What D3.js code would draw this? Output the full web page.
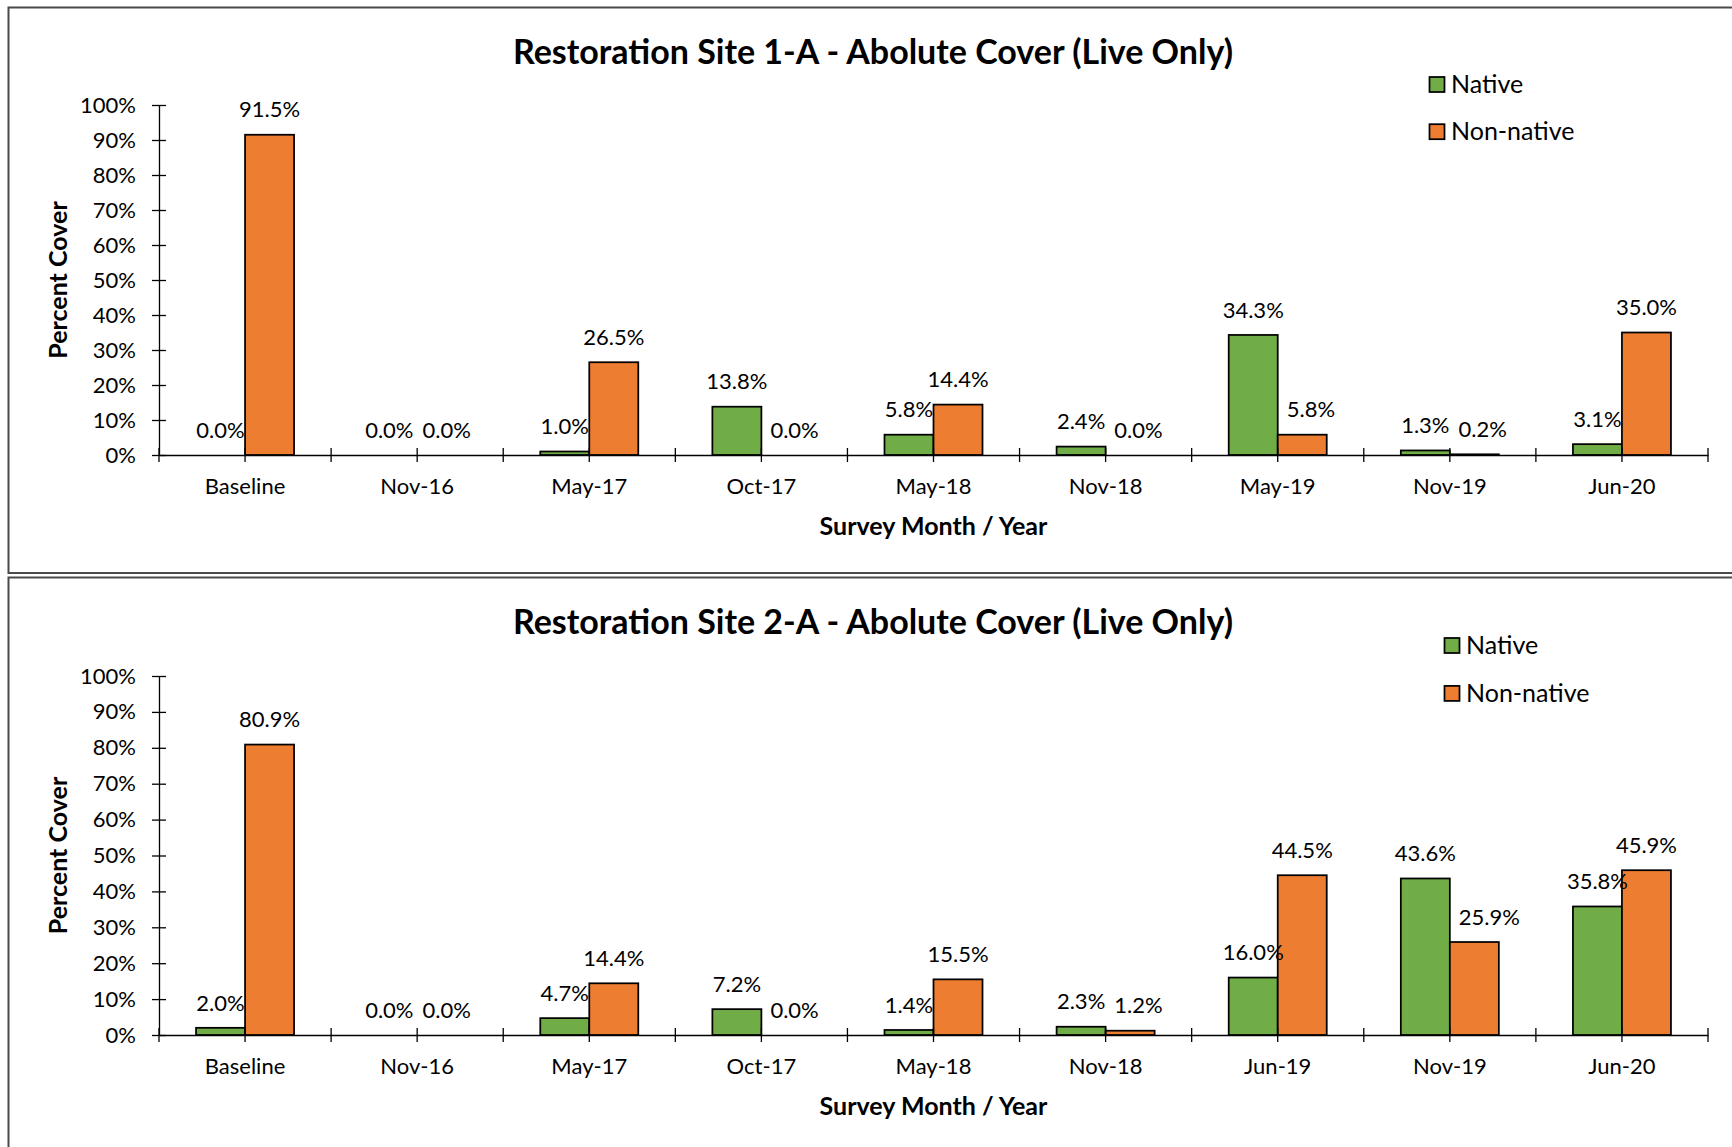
<!DOCTYPE html>
<html>
<head>
<meta charset="utf-8">
<script src="https://cdn.jsdelivr.net/npm/d3@7"></script>
<style>
  html, body { margin: 0; padding: 0; background: #fff; }
  svg { display: block; }
  text { font-family: Lato, "Noto Sans", "Liberation Sans", sans-serif; fill: #000; }
</style>
</head>
<body>
<svg id="chart" width="1732" height="1147"></svg>
<script>
// Survey categories and percent cover per site
const site1Categories = ["Baseline", "Nov-16", "May-17", "Oct-17", "May-18", "Nov-18", "May-19", "Nov-19", "Jun-20"];
const site1Native     = [0.0, 0.0, 1.0, 13.8, 5.8, 2.4, 34.3, 1.3, 3.1];
const site1NonNative  = [91.5, 0.0, 26.5, 0.0, 14.4, 0.0, 5.8, 0.2, 35.0];

const site2Categories = ["Baseline", "Nov-16", "May-17", "Oct-17", "May-18", "Nov-18", "Jun-19", "Nov-19", "Jun-20"];
const site2Native     = [2.0, 0.0, 4.7, 7.2, 1.4, 2.3, 16.0, 43.6, 35.8];
const site2NonNative  = [80.9, 0.0, 14.4, 0.0, 15.5, 1.2, 44.5, 25.9, 45.9];

const seriesNames  = ["Native", "Non-native"];
const seriesColors = ["#70AD47", "#ED7D31"];
const yTickValues  = [0, 10, 20, 30, 40, 50, 60, 70, 80, 90, 100];

const chartTitles = [
  "Restoration Site 1-A - Abolute Cover (Live Only)",
  "Restoration Site 2-A - Abolute Cover (Live Only)"
];
const xAxisTitle = "Survey Month / Year";
const yAxisTitle = "Percent Cover";

const svg = d3.select("#chart");

// Panel geometry for the two stacked charts
const panels = [
  {
    frame: { x: 8.5, y: 7.5, w: 1740, h: 565.5 },
    title: chartTitles[0], titleY: 52,
    plotTop: 105, plotBottom: 455,
    catLabelY: 486, xTitleY: 526,
    legend: { x: 1429.5, y1: 84.5, y2: 131.7, textX: 1451 },
    categories: site1Categories, values: [site1Native, site1NonNative]
  },
  {
    frame: { x: 8.5, y: 577.5, w: 1740, h: 600 },
    title: chartTitles[1], titleY: 622,
    plotTop: 676, plotBottom: 1035,
    catLabelY: 1066, xTitleY: 1106,
    legend: { x: 1444.5, y1: 645.5, y2: 693.4, textX: 1466 },
    categories: site2Categories, values: [site2Native, site2NonNative]
  }
];

const plotLeft = 159, plotRight = 1708;
const tickHalf = 7;
const labelOffset = 25;   // distance from bar top to label centre
const labelGap = 9;       // minimum horizontal clearance between a label and its neighbours

function overlapsY(a, b) { return a.y0 < b.y1 && b.y0 < a.y1; }

function drawPanel(p) {
  const g = svg.append("g");

  // Outer chart frame
  g.append("rect")
    .attr("x", p.frame.x).attr("y", p.frame.y)
    .attr("width", p.frame.w).attr("height", p.frame.h)
    .attr("fill", "#fff").attr("stroke", "#4a4a4a").attr("stroke-width", 2);

  // Title
  g.append("text")
    .attr("x", 873).attr("y", p.titleY).attr("dy", "0.35em")
    .attr("text-anchor", "middle")
    .style("font-size", "34px").style("font-weight", "bold")
    .text(p.title);

  const x = d3.scaleBand().domain(p.categories).range([plotLeft, plotRight]).padding(0);
  const xs = d3.scaleBand().domain(seriesNames).range([0, x.bandwidth()]).paddingInner(0).paddingOuter(0.756);
  const y = d3.scaleLinear().domain([0, 100]).range([p.plotBottom, p.plotTop]);

  // Y axis with crossing tick marks
  const yAxis = d3.axisLeft(y).tickValues(yTickValues).tickFormat(d => d + "%")
    .tickSizeInner(tickHalf).tickSizeOuter(0).tickPadding(16);
  const yg = g.append("g").attr("transform", `translate(${plotLeft},0)`).call(yAxis);
  yg.select(".domain").attr("stroke", "#000").attr("stroke-width", 1.3);
  yg.selectAll(".tick line").attr("x1", tickHalf).attr("stroke", "#000").attr("stroke-width", 1.3);
  yg.selectAll(".tick text").style("font-size", "22px").attr("fill", "#000");

  // Bars
  const rows = [];
  p.categories.forEach((c, i) => {
    seriesNames.forEach((s, k) => rows.push({ cat: c, series: s, k, v: p.values[k][i] }));
  });

  g.append("g").selectAll("rect")
    .data(rows.filter(d => d.v > 0))
    .join("rect")
    .attr("x", d => x(d.cat) + xs(d.series))
    .attr("y", d => y(d.v))
    .attr("width", xs.bandwidth())
    .attr("height", d => y(0) - y(d.v))
    .attr("fill", d => seriesColors[d.k])
    .attr("stroke", "#000").attr("stroke-width", 1.75);

  // X axis line and tick marks at band edges and band centres
  const xAxis = d3.axisBottom(x).tickSize(0).tickSizeOuter(0).tickPadding(0);
  const xg = g.append("g").attr("transform", `translate(0,${p.plotBottom})`).call(xAxis);
  xg.select(".domain").attr("stroke", "#000").attr("stroke-width", 1.3);
  xg.selectAll(".tick line").remove();
  xg.selectAll(".tick text")
    .attr("y", p.catLabelY - p.plotBottom).attr("dy", "0.35em")
    .style("font-size", "22px").attr("fill", "#000");

  const tickPositions = [];
  p.categories.forEach(c => {
    tickPositions.push(x(c));
    tickPositions.push(x(c) + x.bandwidth() / 2);
  });
  tickPositions.push(plotRight);
  g.append("g").selectAll("line")
    .data(tickPositions)
    .join("line")
    .attr("x1", d => d).attr("x2", d => d)
    .attr("y1", p.plotBottom - tickHalf).attr("y2", p.plotBottom + tickHalf)
    .attr("stroke", "#000").attr("stroke-width", 1.3);

  // Value labels above each bar
  const labels = g.append("g").selectAll("text")
    .data(rows)
    .join("text")
    .attr("x", d => x(d.cat) + xs(d.series) + xs.bandwidth() / 2)
    .attr("y", d => y(d.v) - labelOffset)
    .attr("dy", "0.35em")
    .attr("text-anchor", "middle")
    .style("font-size", "22px")
    .text(d => d.v.toFixed(1) + "%");

  // Keep labels of short bars clear of the neighbouring label and bar
  labels.each(function (d) {
    const w = this.getComputedTextLength();
    const cx = x(d.cat) + xs(d.series) + xs.bandwidth() / 2;
    const cy = y(d.v) - labelOffset;
    d.box = { x0: cx - w / 2, x1: cx + w / 2, y0: cy - 11, y1: cy + 11 };
    d.shift = 0;
  });
  const byCat = d3.group(rows, r => r.cat);
  byCat.forEach(([nat, non]) => {
    const barBox = nat.v > 0
      ? { x0: x(nat.cat) + xs(nat.series), x1: x(nat.cat) + xs(nat.series) + xs.bandwidth(), y0: y(nat.v), y1: y(0) }
      : null;
    let need = 0;
    if (overlapsY(nat.box, non.box)) need = Math.max(need, nat.box.x1 + labelGap - non.box.x0);
    if (barBox && overlapsY(barBox, non.box)) need = Math.max(need, barBox.x1 + labelGap - non.box.x0);
    if (need > 0) {
      if (nat.v === 0 && non.v === 0) { nat.shift = -need * 0.4; non.shift = need * 0.6; }
      else { non.shift = need; }
    }
  });
  labels.attr("x", d => (d.box.x0 + d.box.x1) / 2 + d.shift);

  // Axis titles
  g.append("text")
    .attr("x", (plotLeft + plotRight) / 2).attr("y", p.xTitleY).attr("dy", "0.35em")
    .attr("text-anchor", "middle")
    .style("font-size", "25px").style("font-weight", "bold")
    .text(xAxisTitle);

  g.append("text")
    .attr("transform", `translate(58.5,${(p.plotTop + p.plotBottom) / 2}) rotate(-90)`)
    .attr("dy", "0.35em")
    .attr("text-anchor", "middle")
    .style("font-size", "25px").style("font-weight", "bold")
    .text(yAxisTitle);

  // Legend
  const ly = [p.legend.y1, p.legend.y2];
  seriesNames.forEach((s, k) => {
    g.append("rect")
      .attr("x", p.legend.x).attr("y", ly[k] - 7.5)
      .attr("width", 15).attr("height", 15)
      .attr("fill", seriesColors[k]).attr("stroke", "#000").attr("stroke-width", 1.75);
    g.append("text")
      .attr("x", p.legend.textX).attr("y", ly[k]).attr("dy", "0.35em")
      .style("font-size", "25px")
      .text(s);
  });
}

panels.forEach(drawPanel);
</script>
</body>
</html>
